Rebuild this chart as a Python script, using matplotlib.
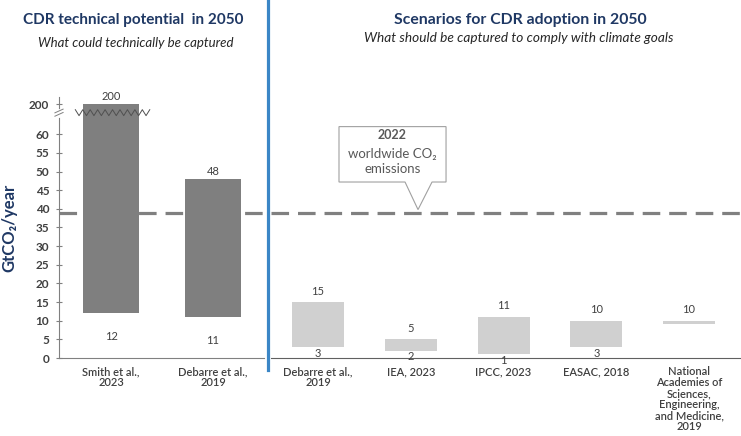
import numpy as np
import matplotlib.pyplot as plt
from matplotlib.lines import Line2D
from matplotlib.patches import Polygon
from matplotlib.transforms import blended_transform_factory

plt.rcParams['font.family'] = ['Lato', 'DejaVu Sans']

# technical potential (left panel)
tech_sources = ['Smith et al.,\n2023', 'Debarre et al.,\n2019']
tech_low = [12, 11]
tech_high = [200, 48]

# adoption scenarios (right panel)
scen_sources = ['Debarre et al.,\n2019', 'IEA, 2023', 'IPCC, 2023', 'EASAC, 2018',
                'National\nAcademies of\nSciences,\nEngineering,\nand Medicine,\n2019']
scen_low = [3, 2, 1, 3, 9]
scen_high = [15, 5, 11, 10, 10]
scen_low_labels = ['3', '2', '1', '3', '']

emissions_2022 = 39
yticks = [0, 5, 10, 15, 20, 25, 30, 35, 40, 45, 50, 55, 60, 200]

NAVY = '#1F3864'
TXT = '#404040'

# broken axis: everything above 62 is squeezed
BRK = 62
K = 6 / 138


def fwd(y):
    y = np.asarray(y, dtype=float)
    return np.where(y <= BRK, y, BRK + (y - BRK) * K)


def inv(y):
    y = np.asarray(y, dtype=float)
    return np.where(y <= BRK, y, BRK + (y - BRK) / K)


fig = plt.figure(figsize=(7.41, 4.36), dpi=100)
axL = fig.add_axes([59 / 741, 78 / 436, 205 / 741, 261 / 436])
axR = fig.add_axes([271 / 741, 78 / 436, 470 / 741, 261 / 436])

for ax in (axL, axR):
    ax.set_yscale('function', functions=(fwd, inv))
    ax.set_ylim(0, float(inv(70)))
    ax.spines['top'].set_visible(False)
    ax.spines['right'].set_visible(False)
    ax.axhline(emissions_2022, color='#808080', lw=2.3, dashes=(5.5, 2.8), zorder=1)

# left panel
xl = np.arange(len(tech_sources))
axL.bar(xl, np.subtract(tech_high, tech_low), bottom=tech_low, width=0.55,
        color='#7f7f7f', zorder=2)
for i, (lo, hi) in enumerate(zip(tech_low, tech_high)):
    axL.annotate(str(hi), (i, hi), xytext=(0, 1.5), textcoords='offset points',
                 ha='center', va='bottom', fontsize=8, color=TXT)
    axL.annotate(str(lo), (i, lo), xytext=(0, -17), textcoords='offset points',
                 ha='center', va='center', fontsize=8, color=TXT)
axL.set_xlim(-0.51, 1.5)
axL.set_xticks(xl, tech_sources, fontsize=8, color=TXT, fontweight='semibold',
               linespacing=1.0)
axL.tick_params(axis='x', length=0, pad=6)
axL.set_yticks(yticks, [str(t) for t in yticks], fontsize=8.5, fontweight='bold')
axL.tick_params(axis='y', direction='inout', length=4, width=0.8, colors='#808080',
                labelcolor=TXT, pad=5)
axL.spines['left'].set_color('#808080')
axL.spines['left'].set_linewidth(0.8)
axL.spines['bottom'].set_color('#808080')

# zigzag across the tall bar and break mark on the axis
zx = np.linspace(-0.35, 0.38, 21)
zy = 65.8 + 0.8 * (-1) ** np.arange(21)
axL.plot(zx, inv(zy), color='#505050', lw=0.7, zorder=3, clip_on=False)
trans = blended_transform_factory(axL.transAxes, axL.transData)
axL.plot([0, 0], inv([65.0, 66.6]), transform=trans, color='white', lw=2,
         clip_on=False, zorder=4)
for dy in (-0.45, 0.45):
    axL.plot([-0.02, 0.02], inv([65.8 + dy - 0.5, 65.8 + dy + 0.5]), transform=trans,
             color='#808080', lw=0.7, clip_on=False, zorder=5)

# right panel
xr = np.arange(len(scen_sources))
axR.bar(xr, np.subtract(scen_high, scen_low), bottom=scen_low, width=0.56,
        color='#d0d0d0', zorder=2)
for i, (lo, hi) in enumerate(zip(scen_low, scen_high)):
    axR.annotate(str(hi), (i, hi), xytext=(0, 4), textcoords='offset points',
                 ha='center', va='bottom', fontsize=8, color=TXT)
    axR.annotate(scen_low_labels[i], (i, lo), xytext=(0, -0.5), textcoords='offset points',
                 ha='center', va='top', fontsize=8, color=TXT)
axR.set_xlim(-0.507, 4.56)
axR.set_xticks(xr, scen_sources, fontsize=8, color=TXT, fontweight='semibold',
               linespacing=1.0)
axR.tick_params(axis='x', length=0, pad=6)
axR.set_yticks([])
axR.spines['left'].set_visible(False)
axR.spines['bottom'].set_color('#606060')

# callout for the emissions line
tip_y = emissions_2022 + 0.8
callout = Polygon([(0.226, 63.3), (1.38, 63.3), (1.38, 47.2), (1.229, 47.2),
                   (1.078, tip_y), (0.938, 47.2), (0.226, 47.2)],
                  closed=True, facecolor='white', edgecolor='#a0a0a0', lw=0.8, zorder=4)
axR.add_patch(callout)
axR.text(0.80, 59.8, '2022', ha='center', va='center', fontsize=9, color='#595959',
         fontweight='bold', zorder=5)
axR.text(0.80, 52.7, 'worldwide CO₂\nemissions', ha='center', va='center', fontsize=9.5,
         color='#595959', linespacing=1.3, zorder=5)

# divider
fig.add_artist(Line2D([268 / 741, 268 / 741], [1, 66 / 436], transform=fig.transFigure,
                      color='#3b86c6', lw=2.3))

# titles
fig.text(133 / 741, 1 - 20 / 436, 'CDR technical potential  in 2050', ha='center',
         va='center', fontsize=11, fontweight='bold', color=NAVY)
fig.text(136 / 741, 1 - 43 / 436, 'What could technically be captured', ha='center',
         va='center', fontsize=9.5, style='italic', color='#262626')
fig.text(520 / 741, 1 - 20 / 436, 'Scenarios for CDR adoption in 2050', ha='center',
         va='center', fontsize=11.3, fontweight='bold', color=NAVY)
fig.text(519 / 741, 1 - 38 / 436, 'What should be captured to comply with climate goals',
         ha='center', va='center', fontsize=9.8, style='italic', color='#262626')
fig.text(9 / 741, 1 - 228 / 436, 'GtCO₂/year', rotation=90, ha='center', va='center',
         fontsize=12, fontweight='bold', color=NAVY)

fig.savefig('out.png', dpi=100)
